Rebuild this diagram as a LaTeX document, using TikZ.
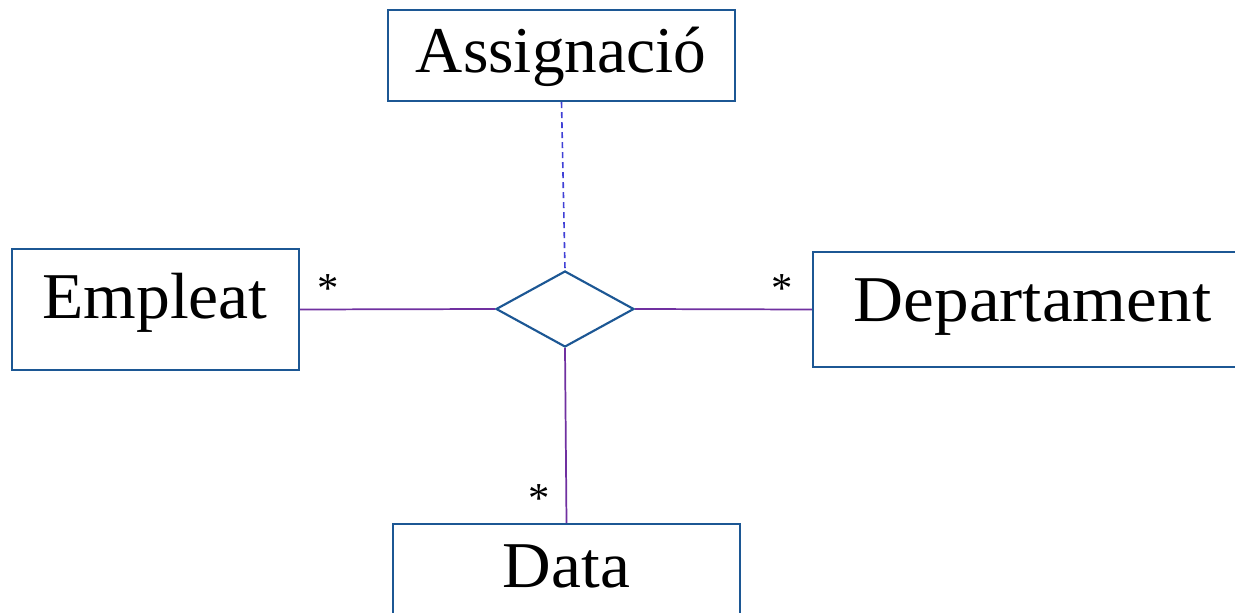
\documentclass[tikz,border=0pt]{standalone}
\usepackage{fontspec}
\setmainfont{Liberation Serif}
\usetikzlibrary{shapes.geometric}
\definecolor{boxblue}{RGB}{28,87,148}
\definecolor{linepurple}{RGB}{112,48,160}
\definecolor{dashblue}{RGB}{64,64,214}
\tikzset{
  cls/.style={draw=boxblue, line width=1.6pt, rectangle, inner sep=0pt, fill=none},
  rel/.style={draw=boxblue, line width=1.6pt, diamond, inner sep=0pt, minimum width=103.5pt, minimum height=57pt},
  lbl/.style={anchor=base, inner sep=0pt, font=\fontsize{49}{55}\selectfont},
  mult/.style={anchor=base, inner sep=0pt, font=\fontsize{32}{36}\selectfont},
  assoc/.style={draw=linepurple, line width=1.3pt},
  dashline/.style={draw=dashblue, line width=1.2pt, dash pattern=on 4.5pt off 3pt}
}
\begin{document}
\begin{tikzpicture}[x=0.75pt, y=-0.75pt]
\path[use as bounding box, clip] (0,0) rectangle (1235,613);
\fill[white] (0,0) rectangle (1235,613);
% boxes
\node[cls, minimum width=260.25pt, minimum height=68.25pt] (assig) at (561.5,55.5) {};
\node[cls, minimum width=215.25pt, minimum height=90.75pt] (emp) at (155.5,309.5) {};
\node[cls, minimum width=324pt, minimum height=86.25pt] (dept) at (1029,309.5) {};
\node[cls, minimum width=260.25pt, minimum height=82.5pt] (data) at (566.5,579) {};
\node[rel] (dia) at (565,309) {};
% texts
\node[lbl] (tassig) at (561,73) {Assignació};
\node[lbl] (temp) at (155,318) {\scalebox{1.035}[1]{Empleat}};
\node[lbl] (tdept) at (1032.5,321) {\scalebox{1.06}[1]{Departament}};
\node[lbl] (tdata) at (566.5,587) {\scalebox{1.03}[1]{Data}};
% connectors
\draw[dashline] (assig.south) -- (dia.north);
\draw[assoc] (emp.east) -- (dia.west);
\draw[assoc] (dia.east) -- (dept.west);
\draw[assoc] (dia.south) -- (data.north);
% multiplicities
\node[mult] (m1) at (328,302.5) {*};
\node[mult] (m2) at (782,302) {*};
\node[mult] (m3) at (539,512.5) {*};
\end{tikzpicture}
\end{document}
